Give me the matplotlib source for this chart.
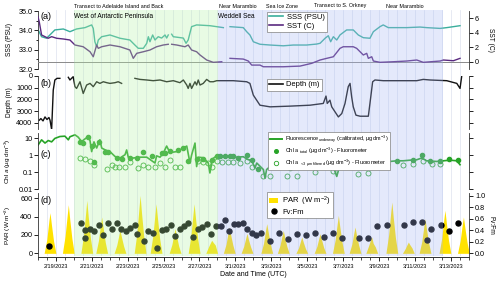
import matplotlib
matplotlib.use("Agg")
import matplotlib.pyplot as plt
from matplotlib.lines import Line2D
from matplotlib.patches import Patch
import numpy as np

nan = np.nan

# all times are days since 2/18/2023 00:00 UTC
date_ticks = [1, 3, 5, 7, 9, 11, 13, 15, 17, 19, 21, 23]
date_labels = ['2/19/2023', '2/21/2023', '2/23/2023', '2/25/2023', '2/27/2023', '3/1/2023',
               '3/3/2023', '3/5/2023', '3/7/2023', '3/9/2023', '3/11/2023', '3/13/2023']

# (a) salinity and temperature
sss_t = [0.01, 0.20, 0.48, 0.94, 1.41, 1.78, 2.15, 2.62, 2.99, 3.08, 3.17, 3.27, 3.36, 3.55, 4.01,
         4.57, 5.12, 5.40, 5.59, 5.87, 6.06, 6.15, 6.24, 6.39, 6.52, 6.70, 6.89, 7.08, 7.17, 7.26,
         7.35, 7.45, 7.54, 8.10, 8.25, 8.37, 8.56, 8.84, 9.58, 10.33, 10.50, 10.70, 11.44, 11.63,
         11.81, 12.00, 12.37, 12.93, 13.67, 14.23, 14.97, 15.53, 15.72, 16.00, 16.18, 16.31, 16.46,
         16.65, 16.83, 17.20, 17.57, 17.85, 18.13, 18.50, 18.69, 19.06, 19.24, 19.52, 20.55, 21.29,
         21.66, 22.41, 22.78, 23.52]
sss = [34.02, 33.67, 33.59, 34.02, 34.07, 33.93, 34.07, 34.14, 34.28, 34.10, 33.41, 33.15, 33.50,
       33.67, 33.76, 33.59, 33.50, 33.24, 33.07, 33.07, 33.33, 33.67, 33.41, 33.76, 33.50, 33.67,
       33.60, 33.76, 33.60, 33.76, nan, 33.80, 33.67, 33.60, 33.33, 33.50, 34.19, 34.28, 34.24,
       34.14, nan, 34.19, 34.14, 33.93, 33.76, 33.41, 33.28, 33.24, 33.20, 33.24, 33.24, 33.29,
       33.33, 33.59, 33.72, 33.41, 33.67, 33.50, 33.76, 34.02, 34.02, 33.76, 33.62, 33.59, 33.93,
       34.19, 34.28, 34.14, 34.14, 34.17, 34.14, 34.10, 34.14, 34.24]

sst_t = [0.00, 0.07, 0.20, 0.39, 0.57, 0.76, 1.04, 1.41, 1.78, 2.06, 2.52, 2.90, 3.08, 3.27, 3.36,
         3.55, 4.01, 4.57, 5.12, 5.31, 5.50, 5.87, 6.24, 6.61, 6.98, 7.26, 7.35, 7.45, 7.73, 8.19,
         8.37, 8.56, 8.84, 9.03, 9.40, 9.77, 10.24, 10.45, 10.70, 11.44, 11.72, 11.91, 12.37, 12.56,
         13.67, 14.60, 15.25, 15.72, 16.09, 16.46, 16.83, 17.01, 17.57, 17.76, 17.95, 18.13, 18.32,
         18.41, 18.60, 18.69, 19.06, 19.80, 20.55, 21.11, 21.47, 22.41, 22.59, 23.15, 23.52]
sst = [6.2, 5.5, 3.69, 3.46, 3.24, 3.46, 3.24, 3.14, 3.00, 2.31, 2.07, 1.38, 0.69, 2.31, 1.85,
       2.07, 2.31, 2.07, 1.62, 0.47, 1.16, 1.38, 1.62, 2.07, 2.31, 2.41, nan, 2.41, 2.31, 2.07,
       2.31, 1.62, 1.38, 0.93, 0.24, -0.08, 0.0, nan, 0.47, 0.37, 0.10, -0.46, -0.46, -0.69,
       -0.69, -0.60, -0.22, 0.24, 0.47, 0.69, 1.85, 2.07, 2.07, 1.85, 1.38, 0.93, 1.16, 0.47,
       0.69, 0.10, -0.08, 0.0, 0.10, 0.24, -0.08, 0.10, 0.24, 0.14, 0.47]

# (b) bottom depth
depth_t = [0.07, 0.16, 0.28, 0.39, 0.50, 0.61, 0.67, 0.76, 0.85, 0.94, 1.06, 1.22, 1.45, 1.69,
           1.78, 1.96, 2.06, 2.15, 2.34, 2.52, 2.71, 2.90, 3.08, 3.27, 3.45, 3.64, 3.83, 4.01,
           4.29, 4.47, 4.66, 5.0, 5.40, 5.68, 6.06, 6.42, 6.80, 7.17, 7.54, 7.91, 8.10, 8.29,
           8.37, 8.47, 8.56, 8.75, 8.84, 8.93, 9.03, 9.21, 9.40, 9.58, 9.77, 9.96, 10.88, 11.63,
           11.81, 12.00, 12.37, 12.93, 14.04, 15.16, 15.90, 16.05, 16.12, 16.27, 16.37, 16.74,
           16.93, 17.11, 17.29, 17.39, 17.48, 17.57, 17.72, 17.95, 18.41, 18.50, 18.65, 18.78,
           19.24, 20.18, 21.11, 21.47, 21.85, 22.78, 23.34, 23.52, 23.61]
depth = [3770, 3630, 3830, 3490, 3710, 3540, 3770, 4570, 1200, 340, 200, 200, nan, 110, 340, 60,
         910, 1060, 490, 1490, 770, 630, 910, 490, 630, 490, 570, 630, 570, 490, 630, nan, 200,
         290, 340, 400, 340, 490, 400, 570, 340, 770, 1060, 630, 1060, 490, 770, 340, 770, 630,
         290, 490, 490, 400, 400, 490, 630, 1630, 2490, 2630, 2570, 2490, 2340, 1710, 2340, 2060,
         2630, 3490, 3200, 2340, 910, 630, 1770, 2630, 3340, 3430, 3430, 2340, 490, 340, 400, 400,
         400, 290, 340, 400, 630, 1060, 60]

# (c) chlorophyll
fl_t = [0.01, 0.20, 0.39, 0.57, 0.76, 0.94, 1.22, 1.50, 1.69, 1.78, 2.06, 2.24, 2.43, 2.62, 2.80,
        2.90, 2.99, 3.12, 3.27, 3.45, 3.55, 3.73, 4.01, 4.29, 4.57, 4.85, 4.94, 5.03, 5.31, 5.68,
        6.06, 6.52, 6.61, 6.80, 6.98, 7.17, 7.35, 7.73, 8.10, 8.29, 8.47, 8.56, 8.75, 8.84, 8.93,
        9.21, 9.49, 9.58, 9.73, 9.96, 10.33, 10.70, 11.07, 11.44, 11.72, 11.91, 12.09, 12.19,
        12.56, 12.65, 12.74, 12.93, 13.30, 13.67, 14.04, 14.42, 14.78, 15.16, 15.44, 15.72, 16.00,
        16.18, 16.27, 16.46, 16.65, 16.83, 17.11, 17.39, 17.76, 18.13, 18.50, 18.88, 19.24, 19.62,
        19.99, 20.36, 20.73, 21.11, 21.38, 21.66, 22.22, 22.59, 22.97, 23.34, 23.52]
fl = [4.0, 7.9, 5.1, 7.2, 6.0, 9.6, 12.4, 13.0, 7.9, 12.0, 15.6, 11.4, 6.3, 9.0, 12.4, 7.0, 1.6,
      6.0, 2.6, 7.9, 2.6, 2.05, 1.6, 0.83, 0.67, 1.05, 2.0, 0.75, 0.67, 0.75, 0.75, 0.34, 0.9,
      0.75, 1.3, 3.4, 1.4, 1.6, 2.6, 3.4, 0.34, 1.0, 5.1, 0.21, 0.75, 0.7, 0.34, 0.088, 0.6, 0.91,
      0.85, 0.8, 0.75, 0.8, 0.53, 0.5, 0.17, 0.34, 0.14, 0.044, 0.14, 0.21, 0.42, 0.27, 0.14,
      0.17, 0.27, 0.34, 0.2, 0.53, 0.6, 0.42, 0.15, 0.2, 0.055, 0.27, 0.67, 0.67, 0.42, 0.46,
      0.53, 0.83, 0.46, 0.42, 0.46, 0.46, 0.5, 0.53, 0.67, 0.46, 0.42, 0.46, 0.5, 0.46, 0.27]

chl_tot_t = [2.34, 2.52, 2.80, 2.99, 3.12, 3.41, 3.73, 3.92, 4.38, 4.66, 5.12, 5.50, 5.87, 6.33,
             6.89, 7.08, 7.35, 7.82, 8.10, 8.37, 8.84, 9.21, 9.68, 9.96, 10.14, 10.42, 10.70,
             10.88, 11.16, 11.63, 11.91, 12.28, 13.58, 14.04, 14.88, 15.34, 15.90, 16.83, 17.95,
             18.88, 19.43, 19.99, 20.92, 21.38, 21.85, 22.41, 22.92, 23.42]
chl_tot = [6.3, 5.3, 12.4, 3.5, 0.37, 6.3, 1.6, 1.5, 0.67, 0.58, 0.67, 0.67, 1.6, 0.83, 1.3, 1.3,
           1.85, 2.05, 2.6, 0.42, 0.58, 0.58, 0.53, 0.91, 0.83, 0.83, 0.91, 0.83, 0.67, 1.05, 0.53,
           0.15, 0.42, 0.17, 0.27, 0.42, 0.61, 0.67, 0.27, 0.95, 0.67, 0.46, 0.53, 0.95, 0.46,
           0.42, 0.61, 0.53]

chl_f_t = [2.34, 2.62, 2.90, 3.12, 3.86, 4.10, 4.29, 4.53, 4.85, 5.12, 5.59, 5.87, 6.15, 6.52,
           6.80, 7.08, 7.35, 7.63, 7.91, 8.93, 9.21, 9.49, 9.68, 9.96, 10.24, 10.60, 10.88, 11.26,
           11.63, 11.91, 12.56, 12.93, 13.86, 14.42, 15.44, 16.46, 17.85, 18.41, 18.97, 19.43,
           20.36, 20.92, 21.47, 21.94, 22.41]
chl_f = [0.67, 0.61, 0.42, 0.27, 0.15, 0.27, 0.2, 0.2, 0.21, 0.37, 0.17, 0.27, 0.21, 0.21, 0.34,
         0.21, 0.53, 0.21, 0.21, 0.42, 0.37, 0.34, 0.21, 0.42, 0.37, 0.37, 0.37, 0.34, 0.42, 0.21,
         0.055, 0.055, 0.06, 0.06, 0.1, 0.12, 0.077, 0.088, 0.42, 0.3, 0.25, 0.3, 0.42, 0.3, 0.3]

# (d) PAR and Fv:Fm
par_t = [0.34, 0.49, 0.61, 0.67, 0.75, 0.87, 1.00,
         1.36, 1.51, 1.63, 1.69, 1.77, 1.89, 2.02,
         2.39, 2.54, 2.66, 2.72, 2.80, 2.92, 3.05,
         3.22, 3.37, 3.49, 3.55, 3.63, 3.75, 3.88,
         4.24, 4.39, 4.51, 4.57, 4.65, 4.77, 4.90,
         5.36, 5.51, 5.63, 5.69, 5.77, 5.89, 6.02,
         6.25, 6.40, 6.52, 6.58, 6.66, 6.78, 6.91,
         7.31, 7.46, 7.58, 7.64, 7.72, 7.84, 7.97,
         8.37, 8.52, 8.64, 8.70, 8.78, 8.90, 9.03,
         9.35, 9.50, 9.62, 9.68, 9.76, 9.88, 10.01,
         10.33, 10.48, 10.60, 10.66, 10.74, 10.86, 10.99,
         11.32, 11.47, 11.59, 11.65, 11.73, 11.85, 11.98,
         12.42, 12.57, 12.69, 12.75, 12.83, 12.95, 13.08,
         13.34, 13.49, 13.61, 13.67, 13.75, 13.87, 14.00,
         14.37, 14.52, 14.64, 14.70, 14.78, 14.90, 15.03,
         15.39, 15.54, 15.66, 15.72, 15.80, 15.92, 16.05,
         16.41, 16.56, 16.68, 16.74, 16.82, 16.94, 17.07,
         17.34, 17.49, 17.61, 17.67, 17.75, 17.87, 18.00,
         18.27, 18.42, 18.54, 18.60, 18.68, 18.80, 18.93,
         19.39, 19.54, 19.66, 19.72, 19.80, 19.92, 20.05,
         20.31, 20.46, 20.58, 20.64, 20.72, 20.84, 20.97,
         21.24, 21.39, 21.51, 21.57, 21.65, 21.77, 21.90,
         22.35, 22.50, 22.62, 22.68, 22.76, 22.88, 23.01,
         23.38, 23.53, 23.65, 23.71, 23.79, 23.91, 24.04]
par = [0, 150, 360, 443, 310, 130, 0,
       0, 190, 420, 530, 370, 160, 0,
       0, 200, 450, 578, 400, 170, 0,
       0, 140, 320, 396, 280, 120, 0,
       0, 90, 200, 250, 180, 80, 0,
       0, 220, 500, 632, 440, 190, 0,
       0, 190, 430, 540, 380, 160, 0,
       0, 95, 215, 269, 190, 80, 0,
       0, 190, 430, 540, 380, 160, 0,
       0, 70, 120, 142, 120, 90, 0,
       0, 100, 230, 287, 200, 90, 0,
       0, 80, 175, 218, 150, 70, 0,
       0, 110, 260, 324, 230, 100, 0,
       0, 90, 200, 250, 175, 75, 0,
       0, 60, 140, 178, 125, 55, 0,
       0, 75, 170, 215, 150, 65, 0,
       0, 145, 330, 414, 290, 125, 0,
       0, 100, 230, 287, 200, 90, 0,
       0, 80, 150, 178, 110, 70, 0,
       0, 200, 450, 560, 390, 170, 0,
       0, 50, 100, 123, 95, 60, 0,
       0, 130, 300, 378, 265, 115, 0,
       0, 165, 375, 469, 330, 140, 0,
       0, 140, 320, 396, 280, 120, 0]

fv_t = [0.63, 2.38, 2.62, 2.62, 2.90, 3.13, 3.40, 3.60, 3.88, 4.14, 4.38, 4.62, 4.89, 5.12, 5.40,
        5.53, 5.91, 6.15, 6.39, 6.65, 6.89, 7.13, 7.39, 7.63, 7.91, 8.13, 8.37, 8.62, 8.90, 9.16,
        9.40, 9.64, 9.90, 10.18, 10.42, 10.64, 10.92, 11.16, 11.41, 11.66, 11.91, 12.15, 12.41,
        12.93, 13.43, 13.95, 14.42, 14.94, 15.44, 15.94, 16.42, 16.93, 17.91, 18.41, 18.91, 19.43,
        20.41, 20.92, 21.42, 21.66, 21.90, 22.45, 22.92, 23.42]
fv = [0.13, 0.53, 0.40, 0.26, 0.42, 0.38, 0.49, 0.31, 0.53, 0.43, 0.52, 0.43, 0.38, 0.44, 0.49,
      0.34, 0.21, 0.39, 0.36, 0.09, 0.40, 0.43, 0.50, 0.30, 0.42, 0.47, 0.53, 0.28, 0.42, 0.45,
      0.51, 0.34, 0.48, 0.47, 0.57, 0.39, 0.51, 0.51, 0.53, 0.43, 0.36, 0.32, 0.36, 0.21, 0.35,
      0.25, 0.34, 0.31, 0.35, 0.28, 0.35, 0.27, 0.27, 0.27, 0.47, 0.50, 0.50, 0.55, 0.54, 0.23,
      0.42, 0.49, 0.39, 0.52]

# shaded cruise legs (days)
wap_span = (2.0, 10.03)
weddell_span = (10.03, 22.57)

plt.rcParams['font.family'] = ['Liberation Sans', 'DejaVu Sans']
plt.rcParams['mathtext.fontset'] = 'custom'
plt.rcParams['mathtext.rm'] = 'Liberation Sans'
plt.rcParams['mathtext.it'] = 'Liberation Sans:italic'
plt.rcParams['axes.linewidth'] = 0.6
plt.rcParams['axes.edgecolor'] = '#333333'

teal = '#3aae9c'
purple = '#5a2a80'
green = '#27a327'
yellow = '#ffe200'

W, H = 500, 286


def box(left, top, right, bottom):
    return [left / W, 1 - bottom / H, (right - left) / W, (bottom - top) / H]


fig = plt.figure(figsize=(5, 2.86), dpi=100)
xlim = (0, 24.02)

# faint 12 h grid behind everything
bg = fig.add_axes(box(38, 10, 469, 256))
bg.set_xlim(xlim)
bg.axis('off')
for t in np.arange(0.5, 24, 0.5):
    bg.axvline(t, color='#dde1ee', lw=0.5)

ax_a = fig.add_axes(box(38, 11, 469, 69))
ax_b = fig.add_axes(box(38, 76, 469, 129))
ax_c = fig.add_axes(box(38, 133, 469, 189))
ax_d = fig.add_axes(box(38, 193, 469, 257))
for ax in (ax_a, ax_b, ax_c, ax_d):
    ax.patch.set_visible(False)
    ax.set_xlim(xlim)
    ax.spines['top'].set_visible(False)
    ax.tick_params(axis='y', which='both', direction='out', labelsize=5.2, length=2.8,
                   width=0.6, pad=1.2)
    ax.yaxis.set_label_coords(-0.058, 0.5)
for ax in (ax_a, ax_b, ax_c):
    ax.spines['bottom'].set_visible(False)
    ax.tick_params(axis='x', which='both', bottom=False, labelbottom=False)
ax_a.spines['right'].set_visible(False)

# (a)
ax_a.plot(sss_t, sss, color=teal, lw=1.0)
ax_a.set_ylim(32, 35)
ax_a.set_yticks([32, 33, 34, 35])
ax_a.set_yticklabels(['32.0', '33.0', '34.0', '35.0'])
ax_a.set_yticks([32.5, 33.5, 34.5], minor=True)
ax_a.tick_params(axis='y', which='minor', length=1.8)
ax_a.set_ylabel('SSS (PSU)', fontsize=4.8)
ax_a2 = ax_a.twinx()
ax_a2.set_xlim(xlim)
ax_a2.axhline(0, color='#8a8a8a', lw=0.7, zorder=1)
ax_a2.plot(sst_t, sst, color=purple, lw=1.0)
ax_a2.set_ylim(-1, 7)
ax_a2.set_yticks([0, 2, 4, 6])
ax_a2.spines['top'].set_visible(False)
ax_a2.spines['bottom'].set_visible(False)
ax_a2.spines['left'].set_visible(False)
ax_a2.tick_params(axis='y', direction='out', labelsize=5.2, length=2.8, width=0.6, pad=1.5)
ax_a2.set_ylabel('SST (C)', fontsize=4.8, rotation=270, va='center')
ax_a2.yaxis.set_label_coords(1.05, 0.5)

# (b)
ax_b.plot(depth_t, depth, color='#111111', lw=1.0)
ax_b.set_ylim(4520, 0)
ax_b.set_yticks([0, 1000, 2000, 3000, 4000])
ax_b.tick_params(axis='y', right=True)
ax_b.set_ylabel('Depth (m)', fontsize=4.8)

# (c)
ax_c.set_yscale('log')
ax_c.plot(fl_t, fl, color=green, lw=1.2)
ax_c.plot(chl_tot_t, chl_tot, ls='none', marker='o', ms=3.0, color=green)
ax_c.plot(chl_f_t, chl_f, ls='none', marker='o', ms=3.6, mfc='none', mec=green, mew=0.6)
ax_c.set_ylim(0.01, 20)
ax_c.set_yticks([0.01, 0.1, 1, 10])
ax_c.set_yticklabels(['0.01', '0.1', '1', '10'])
ax_c.yaxis.set_minor_locator(matplotlib.ticker.NullLocator())
ax_c.tick_params(axis='y', right=True)
ax_c.set_ylabel('Chl $\\mathit{a}$ (µg dm$^{-3}$)', fontsize=4.6)

# (d)
ax_d.fill_between(par_t, par, 0, color=yellow, lw=0)
ax_d.set_ylim(-40, 658)
ax_d.set_yticks([0, 200, 400, 600])
ax_d.spines['right'].set_visible(False)
ax_d.set_ylabel('PAR (W m$^{-2}$)', fontsize=4.6)
ax_d.set_xticks(date_ticks)
ax_d.set_xticklabels(date_labels)
ax_d.set_xticks(np.arange(0, 24.01, 0.5), minor=True)
ax_d.tick_params(axis='x', which='major', direction='out', length=2.8, width=0.6,
                 labelsize=4, pad=2)
ax_d.tick_params(axis='x', which='minor', direction='out', length=1.8, width=0.5)
ax_d.set_xlabel('Date and Time (UTC)', fontsize=5, labelpad=2)
ax_d2 = ax_d.twinx()
ax_d2.set_xlim(xlim)
ax_d2.plot(fv_t, fv, ls='none', marker='o', ms=3.6, color='black')
ax_d2.set_ylim(-0.064, 1.047)
ax_d2.set_yticks([0.0, 0.2, 0.4, 0.6, 0.8, 1.0])
ax_d2.set_yticklabels(['0.0', '0.2', '0.4', '0.6', '0.8', '1.0'])
ax_d2.spines['top'].set_visible(False)
ax_d2.spines['left'].set_visible(False)
ax_d2.tick_params(axis='y', direction='out', labelsize=5.2, length=2.8, width=0.6, pad=1.5)
ax_d2.set_ylabel('Fv:Fm', fontsize=4.8, rotation=270, va='center')
ax_d2.yaxis.set_label_coords(1.05, 0.5)

# panel letters
for ax, y, s in ((ax_a, 0.9, '(a)'), (ax_b, 0.86, '(b)'), (ax_c, 0.61, '(c)'), (ax_d, 0.89, '(d)')):
    ax.text(0.006, y, s, transform=ax.transAxes, fontsize=6.5, va='center', ha='left')

# translucent shading over the data
ov = fig.add_axes(box(38, 10, 469, 256))
ov.set_xlim(xlim)
ov.axis('off')
ov.axvspan(*wap_span, color='#b6f2a8', alpha=0.3, lw=0)
ov.axvspan(*weddell_span, color='#a8b9f5', alpha=0.3, lw=0)

# leg annotations
fig.text(74 / W, 1 - 6 / H, 'Transect to Adelaide Island and Back', fontsize=3.9, va='center')
fig.text(219 / W, 1 - 6 / H, 'Near Marambio', fontsize=3.9, va='center')
fig.text(266 / W, 1 - 6 / H, 'Sea Ice Zone', fontsize=3.9, va='center')
fig.text(314 / W, 1 - 6 / H, 'Transect to S. Orkney', fontsize=3.9, va='center')
fig.text(386 / W, 1 - 6 / H, 'Near Marambio', fontsize=3.9, va='center')
fig.text(74 / W, 1 - 16 / H, 'West of Antarctic Peninsula', fontsize=4.7, va='center')
fig.text(218 / W, 1 - 16 / H, 'Weddell Sea', fontsize=4.7, va='center')

leg_kw = dict(loc='upper left', frameon=True, fancybox=False, edgecolor='#808080', framealpha=1,
              borderpad=0.3, labelspacing=0.15, handletextpad=0.5, borderaxespad=0)
legs = []
legs.append(fig.legend(handles=[Line2D([], [], color=teal, lw=1.2),
                                Line2D([], [], color=purple, lw=1.2)],
                       labels=['SSS (PSU)', 'SST (C)'], bbox_to_anchor=(267 / W, 1 - 11.5 / H),
                       fontsize=5.5, handlelength=1.8, **leg_kw))
legs.append(fig.legend(handles=[Line2D([], [], color='#111111', lw=1.2)], labels=['Depth (m)'],
                       bbox_to_anchor=(267 / W, 1 - 79 / H), fontsize=5.4, handlelength=1.8,
                       **leg_kw))
legs.append(fig.legend(handles=[Line2D([], [], color=green, lw=1.4),
                                Line2D([], [], ls='none', marker='o', ms=2.6, color=green),
                                Line2D([], [], ls='none', marker='o', ms=3.2, mfc='none',
                                       mec=green, mew=0.6)],
                       labels=['Fluorescence$_{\\mathregular{underway}}$ (calibrated, µg dm$^{\\mathregular{-3}}$)',
                               'Chl a $_{\\mathregular{total}}$ (µg dm$^{\\mathregular{-3}}$) - Fluorometer',
                               'Chl a $_{\\mathregular{<3\\ µm\\ filtered}}$ (µg dm$^{\\mathregular{-3}}$) - Fluorometer'],
                       bbox_to_anchor=(268 / W, 1 - 132 / H), fontsize=4, handlelength=2.2,
                       **leg_kw))
legs.append(fig.legend(handles=[Patch(facecolor=yellow, edgecolor='none'),
                                Line2D([], [], ls='none', marker='o', ms=3.6, color='black')],
                       labels=['PAR  (W m$^{-2}$)', 'Fv:Fm'], bbox_to_anchor=(267 / W, 1 - 192 / H),
                       fontsize=5.5, handlelength=1.2, **leg_kw))
for leg in legs:
    leg.get_frame().set_linewidth(0.5)

fig.savefig('out.png', dpi=100)
